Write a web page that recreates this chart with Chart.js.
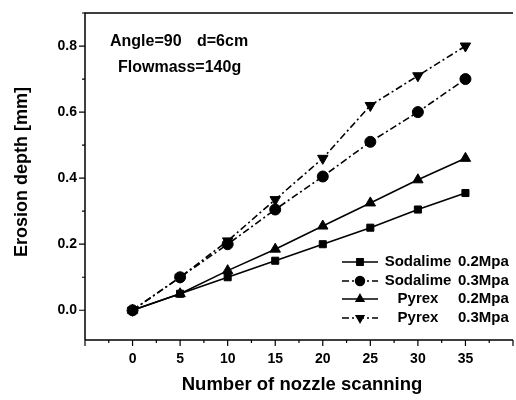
<!DOCTYPE html>
<html>
<head>
<meta charset="utf-8">
<script src="https://cdn.jsdelivr.net/npm/chart.js@4"></script>
<style>
  html, body { margin: 0; padding: 0; background: #fff; overflow: hidden; }
  #wrap { width: 516px; height: 400px; overflow: hidden; }
  #wrap div { width: 520px; height: 400px; }
</style>
</head>
<body>
<div id="wrap"><div><canvas id="chart"></canvas></div></div>
<script>
// scanning counts on the x axis
const scans = [0, 5, 10, 15, 20, 25, 30, 35];

// erosion depth in mm
const sodalime02 = [0, 0.05, 0.10, 0.15, 0.20, 0.25, 0.305, 0.355];
const sodalime03 = [0, 0.10, 0.20, 0.305, 0.405, 0.51, 0.60, 0.70];
const pyrex02 = [0, 0.05, 0.12, 0.185, 0.255, 0.325, 0.395, 0.46];
const pyrex03 = [0, 0.10, 0.21, 0.335, 0.46, 0.62, 0.71, 0.80];

const xTicks = [0, 5, 10, 15, 20, 25, 30, 35];
const yTicks = [0.0, 0.2, 0.4, 0.6, 0.8];

const legendNames = ['Sodalime', 'Sodalime', 'Pyrex', 'Pyrex'];
const legendPress = ['0.2Mpa', '0.3Mpa', '0.2Mpa', '0.3Mpa'];

const FONT = '"Liberation Sans", Arial, sans-serif';
const dashDot = [7, 3, 2, 3];

function pts(ys) {
  return scans.map((x, i) => ({ x: x, y: ys[i] }));
}

function series(label, ys, style, dash, radius) {
  return {
    label: label,
    data: pts(ys),
    borderColor: '#000',
    backgroundColor: '#000',
    borderWidth: 1.6,
    borderDash: dash,
    pointStyle: style,
    pointRadius: radius,
    pointBorderWidth: 1,
    pointRotation: 0
  };
}

const datasets = [
  series('Sodalime 0.2Mpa', sodalime02, 'rect', [], 5),
  series('Sodalime 0.3Mpa', sodalime03, 'circle', dashDot, 5.5),
  series('Pyrex 0.2Mpa', pyrex02, 'triangle', [], 6),
  series('Pyrex 0.3Mpa', pyrex03, 'triangle', dashDot, 6)
];
datasets[3].pointRotation = 180;

const decor = {
  id: 'decor',
  afterDraw(chart) {
    const ctx = chart.ctx;
    const a = chart.chartArea;
    const xs = chart.scales.x, ys = chart.scales.y;
    ctx.save();
    ctx.strokeStyle = '#000';
    ctx.fillStyle = '#000';
    ctx.lineWidth = 1.5;
    // frame
    ctx.beginPath();
    ctx.moveTo(a.left, a.bottom);
    ctx.lineTo(a.left, a.top);
    ctx.lineTo(a.right, a.top);
    ctx.moveTo(a.left, a.bottom);
    ctx.lineTo(a.right, a.bottom);
    ctx.stroke();

    // ticks
    ctx.lineWidth = 1.2;
    ctx.beginPath();
    for (let v = -5; v <= 40; v += 2.5) {
      const px = xs.getPixelForValue(v);
      const len = (v % 5 === 0) ? 6 : 3;
      ctx.moveTo(px, a.bottom);
      ctx.lineTo(px, a.bottom + len);
    }
    for (let k = -1; k <= 9; k++) {
      const v = k / 10;
      if (v < ys.min || v > ys.max) continue;
      const py = ys.getPixelForValue(v);
      const len = (k % 2 === 0) ? 6 : 3;
      ctx.moveTo(a.left, py);
      ctx.lineTo(a.left - len, py);
    }
    ctx.stroke();

    // tick labels
    ctx.font = 'bold 14px ' + FONT;
    ctx.textAlign = 'center';
    ctx.textBaseline = 'middle';
    xTicks.forEach(v => ctx.fillText(String(v), xs.getPixelForValue(v), a.bottom + 19));
    ctx.textAlign = 'right';
    yTicks.forEach(v => ctx.fillText(v.toFixed(1), a.left - 8, ys.getPixelForValue(v)));

    // axis titles
    ctx.font = 'bold 18.5px ' + FONT;
    ctx.textAlign = 'center';
    ctx.fillText('Number of nozzle scanning', 302, 385);
    ctx.save();
    ctx.translate(22, 172);
    ctx.rotate(-Math.PI / 2);
    ctx.font = 'bold 18px ' + FONT;
    ctx.fillText('Erosion depth [mm]', 0, 0);
    ctx.restore();

    // annotation
    ctx.font = 'bold 16px ' + FONT;
    ctx.textAlign = 'left';
    ctx.fillText('Angle=90', 110, 42);
    ctx.fillText('d=6cm', 197, 42);
    ctx.fillText('Flowmass=140g', 118, 68);

    // legend
    const rows = [262, 281, 299, 318];
    ctx.font = 'bold 15px ' + FONT;
    datasets.forEach((ds, i) => {
      const y = rows[i];
      ctx.lineWidth = 1.4;
      ctx.setLineDash(ds.borderDash);
      ctx.beginPath();
      ctx.moveTo(342, y);
      ctx.lineTo(378, y);
      ctx.stroke();
      ctx.setLineDash([]);
      Chart.helpers.drawPoint(ctx, {
        pointStyle: ds.pointStyle, radius: 4.5, rotation: ds.pointRotation, borderWidth: 1
      }, 360, y);
      ctx.fill();
      ctx.textAlign = 'center';
      ctx.fillText(legendNames[i], 418, y);
      ctx.textAlign = 'left';
      ctx.fillText(legendPress[i], 458, y);
    });
    ctx.restore();
  }
};

new Chart(document.getElementById('chart'), {
  type: 'line',
  data: { datasets: datasets },
  plugins: [decor],
  options: {
    responsive: true,
    maintainAspectRatio: false,
    animation: false,
    layout: { padding: { top: 13, right: 2, left: 0, bottom: 0 } },
    plugins: { legend: { display: false }, tooltip: { enabled: false } },
    scales: {
      x: {
        type: 'linear', min: -5, max: 40,
        grid: { display: false }, border: { display: false },
        ticks: { display: false },
        afterFit(s) { s.height = 60; }
      },
      y: {
        min: -0.09, max: 0.9,
        grid: { display: false }, border: { display: false },
        ticks: { display: false },
        afterFit(s) { s.width = 85; }
      }
    }
  }
});
</script>
</body>
</html>
